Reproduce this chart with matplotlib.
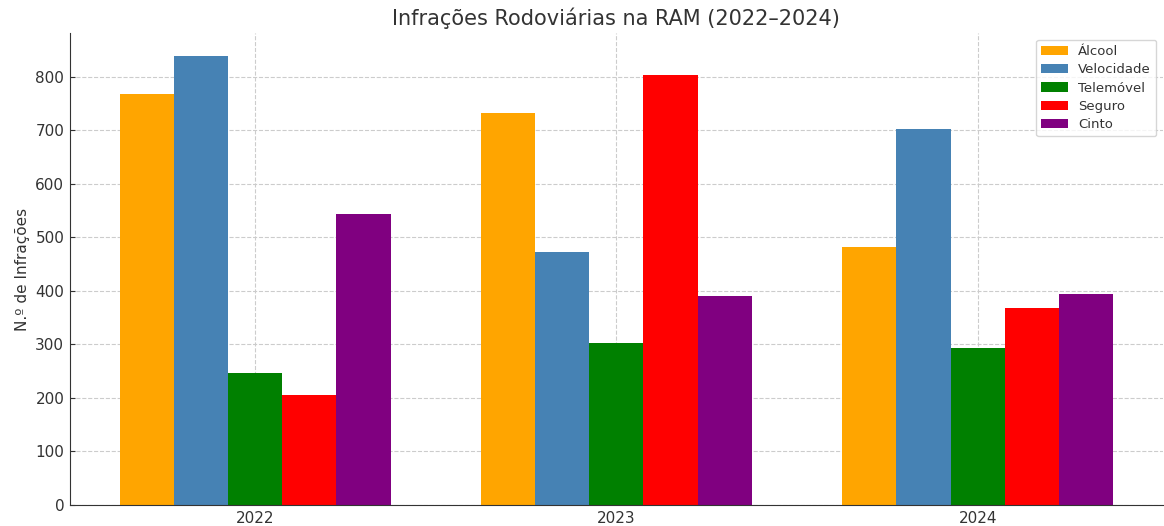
from matplotlib import pyplot as plt
import numpy as np

years = ['2022', '2023', '2024']
categories = ['Álcool', 'Velocidade', 'Telemóvel', 'Seguro', 'Cinto']
colors = ['orange', 'steelblue', 'green', 'red', 'purple']

alcool = [768, 732, 483]
velocidade = [840, 472, 702]
telemovel = [247, 303, 294]
seguro = [206, 803, 369]
cinto = [543, 391, 395]

series = [alcool, velocidade, telemovel, seguro, cinto]

plt.rcParams['text.color'] = '#333333'
plt.rcParams['axes.labelcolor'] = '#333333'
plt.rcParams['xtick.color'] = '#333333'
plt.rcParams['ytick.color'] = '#333333'

fig, ax = plt.subplots(figsize=(11.64, 5.26), dpi=100)
x = np.arange(len(years))
w = 0.15
for i in range(len(categories)):
    ax.bar(x + (i - 2) * w, series[i], w, color=colors[i], label=categories[i])

ax.set_xticks(x)
ax.set_xticklabels(years)
ax.tick_params(axis='both', labelsize=11, direction='in', pad=4)
ax.set_ylabel('N.º de Infrações', fontsize=11)
ax.set_title('Infrações Rodoviárias na RAM (2022–2024)', fontsize=15)
ax.grid(True, linestyle='--', color='#cccccc', linewidth=0.8)
ax.set_axisbelow(True)
ax.spines['top'].set_visible(False)
ax.spines['right'].set_visible(False)
ax.spines['left'].set_color('#333333')
ax.spines['bottom'].set_color('#333333')
ax.legend(fontsize=9.5, labelspacing=0.4)

plt.subplots_adjust(left=0.06, right=0.999, top=0.937, bottom=0.04)
plt.savefig('out.png')
